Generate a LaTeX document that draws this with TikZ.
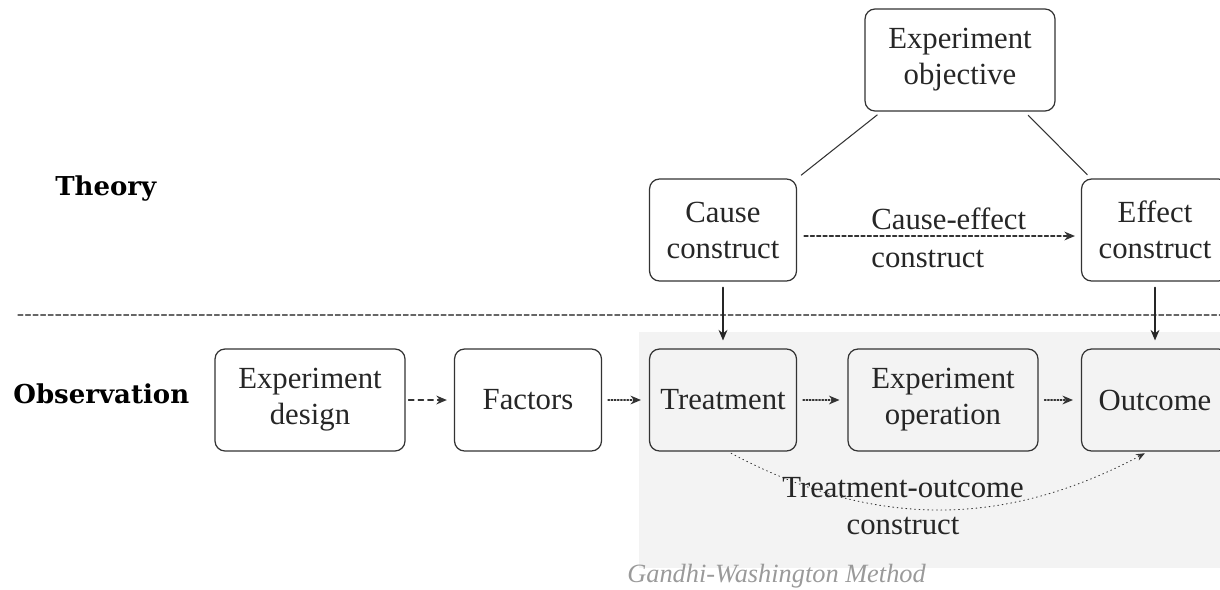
\documentclass[tikz,border=0pt]{standalone}
\usepackage{fontspec}
\setmainfont{Liberation Serif}
\newfontfamily\headfont{DejaVu Serif}
\usetikzlibrary{arrows.meta}
\definecolor{boxline}{HTML}{333333}
\definecolor{bgshade}{HTML}{F3F3F3}
\definecolor{capgray}{HTML}{9A9A9A}
\begin{document}
\begin{tikzpicture}[x=0.02cm, y=-0.02cm, line cap=round, line join=round,
    box/.style={draw=boxline, line width=0.7pt, rounded corners=0.2cm, align=center,
      minimum width=2.94cm, minimum height=2.04cm, inner sep=1pt, text=black!85,
      font=\fontsize{17.5}{20.5}\selectfont},
    widebox/.style={box, minimum width=3.8cm},
    headtext/.style={inner sep=0pt, font=\headfont\bfseries\fontsize{14.8}{17}\selectfont},
    labeltext/.style={inner sep=0pt, text=black!85, font=\fontsize{17.5}{21.5}\selectfont},
    bigtip/.style={-{Stealth[length=6pt, width=5pt]}},
    flowdot/.style={bigtip, boxline, line width=0.8pt, densely dotted, shorten <=3.4pt, shorten >=4.5pt},
    flowdash/.style={bigtip, boxline, line width=0.8pt, dash pattern=on 3pt off 2.5pt, shorten <=1.7pt, shorten >=4pt},
    downarrow/.style={bigtip, black!85, line width=1.2pt, shorten <=3.4pt, shorten >=4.5pt},
    objline/.style={boxline, line width=0.6pt, shorten <=3pt, shorten >=3pt}]
  \useasboundingbox (0,0) rectangle (1220,589);
  % 背景(観測側)
  \fill[bgshade] (639,332) rectangle (1220,568);
  % 区切りの点線
  \draw[black!60, line width=0.6pt, dash pattern=on 2.8pt off 1.5pt] (18,315) -- (1220,315);
  % --- 見出し ---
  \node[headtext, anchor=base west] (theory) at (55,195) {Theory};
  \node[headtext, anchor=base west] (observ) at (13,403) {Observation};
  % --- 上段 ---
  \node[widebox] (objective) at (960,60) {Experiment\\objective};
  \node[box] (cause) at (723,230) {Cause\\construct};
  \node[box] (effect) at (1155,230) {Effect\\construct};
  % --- 下段 ---
  \node[widebox] (design) at (310,400) {Experiment\\design};
  \node[box] (factors) at (528,400) {Factors};
  \node[box] (treat) at (723,400) {Treatment};
  \node[widebox] (oper) at (943,400) {Experiment\\operation};
  \node[box] (outcome) at (1155,400) {Outcome};
  % 目的から構成概念へ
  \draw[objline] ([xshift=0.34cm]objective.south west) -- (cause.north east);
  \draw[objline] ([xshift=-0.62cm]objective.south east) -- ([xshift=0.2cm]effect.north west);
  % 因果の構成概念
  \draw[bigtip, boxline, line width=0.8pt, dash pattern=on 2.2pt off 1.4pt, shorten <=4pt, shorten >=3.4pt]
    ([yshift=-0.12cm]cause.east) -- ([yshift=-0.12cm]effect.west);
  \node[labeltext, anchor=west, align=left] (celabel) at (871,238) {Cause-effect\\construct};
  % 理論から観測へ
  \draw[downarrow] (cause) -- (treat);
  \draw[downarrow] (effect) -- (outcome);
  % 流れ
  \draw[flowdash] (design) -- (factors);
  \draw[flowdot] (factors) -- (treat);
  \draw[flowdot] (treat) -- (oper);
  \draw[flowdot] (oper) -- (outcome);
  % 処置と結果の構成概念
  \draw[-{Stealth[length=5pt, width=4pt]}, boxline, line width=0.5pt, dotted, shorten <=2pt, shorten >=2pt]
    ([xshift=0.1cm]treat.south) to[bend right=28] ([xshift=-0.14cm]outcome.south);
  \node[labeltext, align=center] (tolabel) at (903,506) {Treatment-outcome\\construct};
  % 出典
  \node[inner sep=0pt, anchor=base west, text=capgray, font=\itshape\fontsize{15}{18}\selectfont]
    (source) at (627,582) {Gandhi-Washington Method};
\end{tikzpicture}
\end{document}
